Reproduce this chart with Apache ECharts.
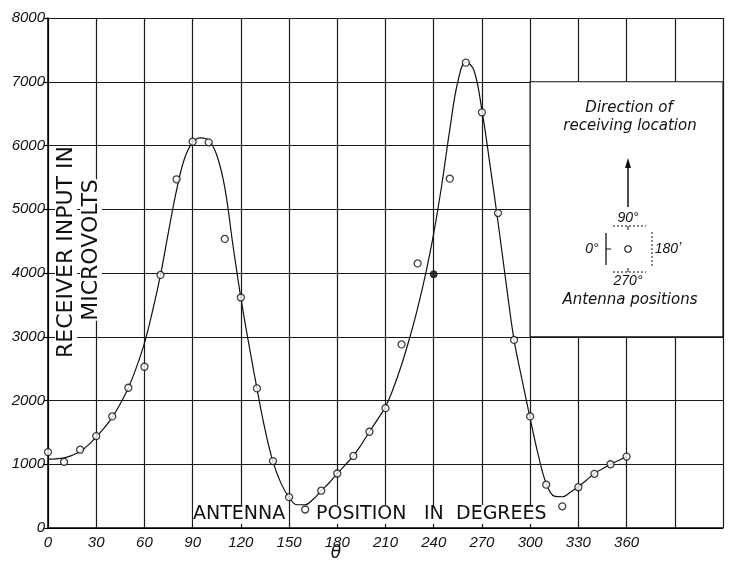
<!DOCTYPE html>
<html><head><meta charset="utf-8">
<script src="https://cdn.jsdelivr.net/npm/echarts@6/dist/echarts.min.js"></script>
<style>html,body{margin:0;padding:0;background:#fff}#c{width:729px;height:568px}</style>
</head><body><div id="c"></div>
<script>
// Measured points: antenna position (deg) and receiver input (microvolts)
var pointDeg = [0,10,20,30,40,50,60,70,80,90,100,110,120,130,140,150,160,170,180,190,200,210,220,230,250,260,270,280,290,300,310,320,330,340,350,360];
var pointVal = [1190,1037,1228,1442,1750,2200,2530,3970,5470,6060,6050,4535,3615,2190,1050,484,290,585,855,1130,1510,1880,2880,4150,5480,7300,6520,4940,2950,1750,680,340,640,850,1000,1120];
// Filled (solid) point
var solidDeg = [240];
var solidVal = [3980];
// Fitted curve, every 5 degrees
var curveDeg = [0,5,10,15,20,25,30,35,40,45,50,55,60,65,70,75,80,85,90,95,100,105,110,115,120,125,130,135,140,145,150,155,160,165,170,175,180,185,190,195,200,205,210,215,220,225,230,235,240,245,250,255,260,265,270,275,280,285,290,295,300,305,310,315,320,325,330,335,340,345,350,355,360];
var curveVal = [1080,1085,1100,1140,1200,1300,1430,1570,1740,1950,2200,2520,2900,3400,3970,4650,5300,5800,6050,6120,6080,5850,5340,4450,3610,2880,2190,1550,1040,700,480,365,365,450,585,710,855,990,1130,1310,1510,1700,1900,2200,2560,2980,3450,3990,4620,5380,6250,7000,7310,7180,6550,5700,4800,3850,2950,2320,1720,1150,700,500,490,560,650,750,857,930,1000,1060,1120];
// Axis ticks
var xTickLabels = [0,30,60,90,120,150,180,210,240,270,300,330,360];
var yTickLabels = [0,1000,2000,3000,4000,5000,6000,7000,8000];
// Inset box (blank region of the grid), in data units
var insetBox = [[300,3000],[420,7000]];

function zip(a,b){return a.map(function(v,i){return [v,b[i]];});}

var numFont = {fontFamily:'Liberation Sans', fontStyle:'italic', fontSize:15, color:'#111'};

var chart = echarts.init(document.getElementById('c'));
chart.setOption({
  animation:false,
  backgroundColor:'#fff',
  grid:{left:48, right:6, top:18, bottom:40, containLabel:false},
  xAxis:{type:'value', min:0, max:420, interval:30,
    axisLine:{show:true, lineStyle:{color:'#000', width:1.5}},
    axisTick:{show:false},
    splitLine:{show:true, lineStyle:{color:'#1a1a1a', width:1.2}},
    axisLabel:Object.assign({margin:7, formatter:function(v){return xTickLabels.indexOf(v)>=0 ? String(v) : '';}}, numFont)
  },
  yAxis:{type:'value', min:0, max:8000, interval:1000,
    axisLine:{show:true, lineStyle:{color:'#000', width:1.5}},
    axisTick:{show:true, length:4, lineStyle:{color:'#000', width:1.2}},
    splitLine:{show:true, lineStyle:{color:'#1a1a1a', width:1.2}},
    axisLabel:Object.assign({margin:3, formatter:function(v){return yTickLabels.indexOf(v)>=0 ? String(v) : '';}}, numFont)
  },
  series:[
    {type:'line', data:zip(curveDeg,curveVal), smooth:0.4, symbol:'none',
     lineStyle:{color:'#111', width:1.2}, z:3,
     markArea:{silent:true, itemStyle:{color:'#fff', borderColor:'#111', borderWidth:1.2},
       data:[[{xAxis:insetBox[0][0], yAxis:insetBox[0][1]},{xAxis:insetBox[1][0], yAxis:insetBox[1][1]}]]}
    },
    {type:'scatter', data:zip(pointDeg,pointVal), symbol:'circle', symbolSize:7,
     itemStyle:{color:'#fff', borderColor:'#111', borderWidth:1.3}, z:4},
    {type:'scatter', data:zip(solidDeg,solidVal), symbol:'circle', symbolSize:7,
     itemStyle:{color:'#111', borderColor:'#111', borderWidth:1}, z:4}
  ],
  graphic:[
    {type:'text', z:10, rotation:Math.PI/2, x:55, y:252, style:{text:'RECEIVER INPUT IN', font:'22px "DejaVu Sans"', fill:'#111', align:'center', verticalAlign:'top', backgroundColor:'#fff'}},
    {type:'text', z:10, rotation:Math.PI/2, x:80, y:250, style:{text:'MICROVOLTS', font:'22px "DejaVu Sans"', fill:'#111', align:'center', verticalAlign:'top', backgroundColor:'#fff'}},
    {type:'text', z:1, x:193, y:505, style:{text:'ANTENNA', font:'19px "DejaVu Sans"', fill:'#111', backgroundColor:'#fff'}},
    {type:'text', z:1, x:316, y:505, style:{text:'POSITION', font:'19px "DejaVu Sans"', fill:'#111', backgroundColor:'#fff'}},
    {type:'text', z:1, x:424, y:505, style:{text:'IN', font:'19px "DejaVu Sans"', fill:'#111', backgroundColor:'#fff'}},
    {type:'text', z:1, x:456, y:505, style:{text:'DEGREES', font:'19px "DejaVu Sans"', fill:'#111', backgroundColor:'#fff'}},
    {type:'text', z:10, x:336, y:545, style:{text:'\u03b8', font:'italic 17px "DejaVu Sans"', fill:'#111', align:'center'}},
    {type:'text', z:10, x:629, y:101, style:{text:'Direction of', font:'italic 15px "DejaVu Sans"', fill:'#111', align:'center'}},
    {type:'text', z:10, x:630, y:119, style:{text:'receiving location', font:'italic 15px "DejaVu Sans"', fill:'#111', align:'center'}},
    {type:'line', z:10, shape:{x1:628, y1:207, x2:628, y2:164}, style:{stroke:'#111', lineWidth:1.5}},
    {type:'polygon', z:10, shape:{points:[[628,158],[625,168],[631,168]]}, style:{fill:'#111'}},
    {type:'text', z:10, x:628, y:211, style:{text:'90\u00b0', font:'italic 14px "Liberation Sans"', fill:'#111', align:'center'}},
    {type:'line', z:10, shape:{x1:613, y1:226, x2:646, y2:226}, style:{stroke:'#111', lineWidth:1, lineDash:[2,2]}},
    {type:'line', z:10, shape:{x1:628, y1:226, x2:628, y2:230}, style:{stroke:'#111', lineWidth:1}},
    {type:'line', z:10, shape:{x1:613, y1:272, x2:646, y2:272}, style:{stroke:'#111', lineWidth:1, lineDash:[2,2]}},
    {type:'line', z:10, shape:{x1:628, y1:268, x2:628, y2:272}, style:{stroke:'#111', lineWidth:1}},
    {type:'line', z:10, shape:{x1:652, y1:232, x2:652, y2:266}, style:{stroke:'#111', lineWidth:1, lineDash:[2,2]}},
    {type:'line', z:10, shape:{x1:606, y1:233, x2:606, y2:265}, style:{stroke:'#111', lineWidth:1.3}},
    {type:'line', z:10, shape:{x1:606, y1:249, x2:611, y2:249}, style:{stroke:'#111', lineWidth:1}},
    {type:'circle', z:10, shape:{cx:628, cy:249, r:3.2}, style:{fill:'#fff', stroke:'#111', lineWidth:1.1}},
    {type:'text', z:10, x:592, y:242, style:{text:'0\u00b0', font:'italic 14px "Liberation Sans"', fill:'#111', align:'center'}},
    {type:'text', z:10, x:668, y:242, style:{text:'180\u02bc', font:'italic 14px "Liberation Sans"', fill:'#111', align:'center'}},
    {type:'text', z:10, x:628, y:274, style:{text:'270\u00b0', font:'italic 14px "Liberation Sans"', fill:'#111', align:'center'}},
    {type:'text', z:10, x:630, y:293, style:{text:'Antenna positions', font:'italic 15px "DejaVu Sans"', fill:'#111', align:'center'}}
  ]
});
</script></body></html>
